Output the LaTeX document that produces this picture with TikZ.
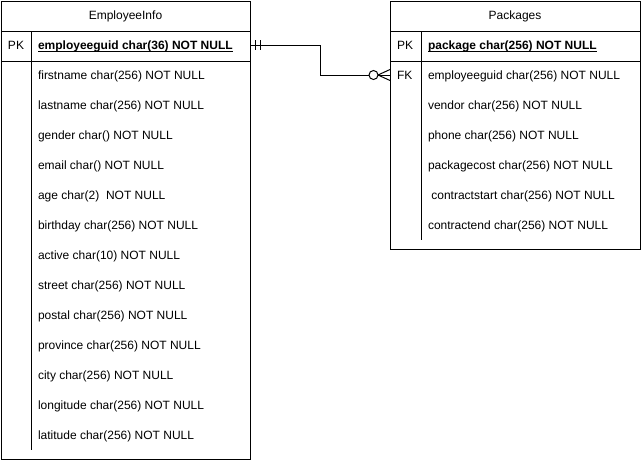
\documentclass[tikz,border=0pt]{standalone}
\usepackage{fontspec}
\setmainfont{Liberation Sans}
\usetikzlibrary{calc}
\begin{document}
\begin{tikzpicture}[x=1pt,y=-1pt,
  lw/.style={line width=1pt},
  tbl/.style={draw, lw, inner sep=0pt, outer sep=0pt, anchor=north west},
  fld/.style={anchor=base west, inner sep=0pt, outer sep=0pt,
    font=\fontsize{12}{14}\selectfont, text height=9pt, text depth=0pt},
  pkf/.style={fld, font=\fontsize{12}{14}\selectfont\bfseries},
  ttl/.style={fld, anchor=base},
  conn/.style={lw}
]
\useasboundingbox (0,0) rectangle (641,461);

% ---- EmployeeInfo table
\node[tbl, minimum width=249pt, minimum height=458pt] (eTab) at (1,1) {};
\draw[lw] (1,31) -- (250,31);
\draw[lw] (1,61) -- (250,61);
\draw[lw] (31,31) -- (31,450);
\node[ttl] (eTitle) at (125.5,19.5) {EmployeeInfo};
\node[fld] (ePKl) at (8,49.5) {PK};
\node[pkf] (ePK) at (38,49.5) {employeeguid char(36) NOT NULL};
\draw[lw] ($(ePK.base west)+(0,1.5)$) -- ($(ePK.base east)+(0,1.5)$);
\foreach \t [count=\i] in {firstname char(256) NOT NULL,
  lastname char(256) NOT NULL,
  gender char() NOT NULL,
  email char() NOT NULL,
  age char(2)~ NOT NULL,
  birthday char(256) NOT NULL,
  active char(10) NOT NULL,
  street char(256) NOT NULL,
  postal char(256) NOT NULL,
  province char(256) NOT NULL,
  city char(256) NOT NULL,
  longitude char(256) NOT NULL,
  latitude char(256) NOT NULL}
  \node[fld] (e\i) at (38,{49.5+30*\i}) {\t};

% ---- Packages table
\node[tbl, minimum width=250pt, minimum height=248pt] (pTab) at (390,1) {};
\draw[lw] (390,31) -- (640,31);
\draw[lw] (390,61) -- (640,61);
\draw[lw] (421,31) -- (421,240);
\node[ttl] (pTitle) at (515,19.5) {Packages};
\node[fld] (pPKl) at (397,49.5) {PK};
\node[pkf] (pPK) at (428,49.5) {package char(256) NOT NULL};
\draw[lw] ($(pPK.base west)+(0,1.5)$) -- ($(pPK.base east)+(0,1.5)$);
\node[fld] (pFK) at (397,79.5) {FK};
\foreach \t [count=\i] in {employeeguid char(256) NOT NULL,
  vendor char(256) NOT NULL,
  phone char(256) NOT NULL,
  packagecost char(256) NOT NULL,
  \ contractstart char(256) NOT NULL,
  contractend char(256) NOT NULL}
  \node[fld] (p\i) at (428,{49.5+30*\i}) {\t};

% ---- connector
\coordinate (bend) at (320,0);
\coordinate (cs) at (eTab.east |- ePK);
\coordinate (ce) at (pTab.west |- pFK);
\draw[conn] (cs) -| (bend |- ce) -- ($(ce)+(-21,0)$);
\draw[conn] ($(ce)+(-12,0)$) -- (ce);
% mandatory one
\draw[conn] ($(cs)+(5.5,-5)$) -- ++(0,10);
\draw[conn] ($(cs)+(10.5,-5)$) -- ++(0,10);
% zero or many
\draw[conn, fill=white] ($(ce)+(-16.5,0)$) circle (4.5pt);
\draw[conn] ($(ce)+(-12,0)$) -- ($(ce)+(0,-5.5)$);
\draw[conn] ($(ce)+(-12,0)$) -- ($(ce)+(0,5.5)$);
\end{tikzpicture}
\end{document}
